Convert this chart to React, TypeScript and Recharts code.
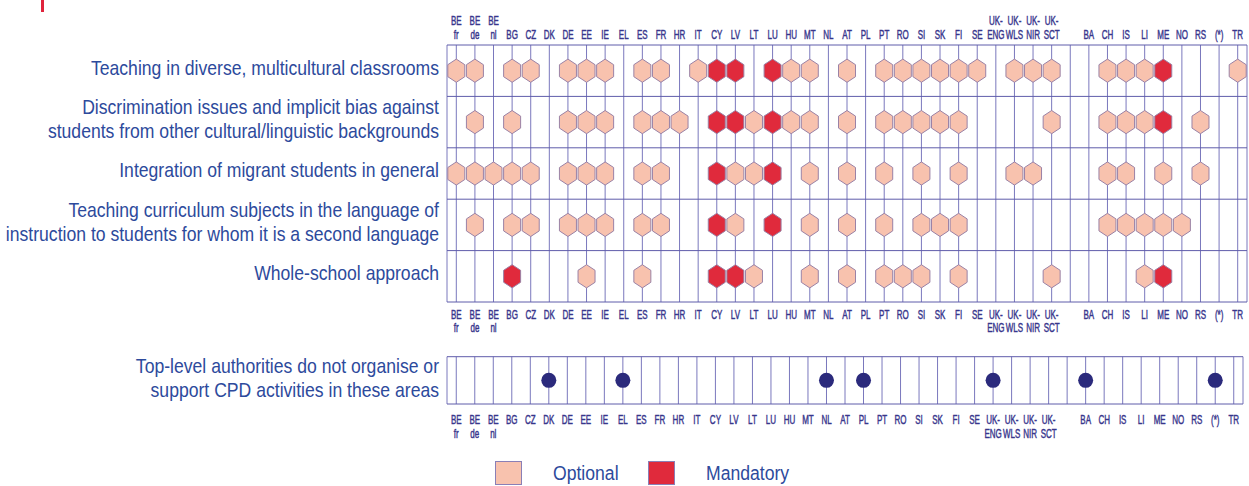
import React from 'react';
import { ScatterChart, Scatter, XAxis, YAxis, CartesianGrid, Legend, ReferenceLine } from 'recharts';

// ---------- data ----------
const countries = [
  'BE fr', 'BE de', 'BE nl', 'BG', 'CZ', 'DK', 'DE', 'EE', 'IE', 'EL', 'ES', 'FR', 'HR', 'IT',
  'CY', 'LV', 'LT', 'LU', 'HU', 'MT', 'NL', 'AT', 'PL', 'PT', 'RO', 'SI', 'SK', 'FI', 'SE',
  'UK- ENG', 'UK- WLS', 'UK- NIR', 'UK- SCT', '', 'BA', 'CH', 'IS', 'LI', 'ME', 'NO', 'RS', '(*)', 'TR',
];

const topics = [
  ['Teaching in diverse, multicultural classrooms'],
  ['Discrimination issues and implicit bias against', 'students from other cultural/linguistic backgrounds'],
  ['Integration of migrant students in general'],
  ['Teaching curriculum subjects in the language of', 'instruction to students for whom it is a second language'],
  ['Whole-school approach'],
];

const noCpdLabel = ['Top-level authorities do not organise or', 'support CPD activities in these areas'];

// 0 = no CPD, 1 = optional, 2 = mandatory
const diverseClassrooms = [
  1, 1, 0, 1, 1, 0, 1, 1, 1, 0,
  1, 1, 0, 1, 2, 2, 0, 2, 1, 1,
  0, 1, 0, 1, 1, 1, 1, 1, 1, 0,
  1, 1, 1, 0, 0, 1, 1, 1, 2, 0,
  0, 0, 1,
];
const discrimination = [
  0, 1, 0, 1, 0, 0, 1, 1, 1, 0,
  1, 1, 1, 0, 2, 2, 1, 2, 1, 1,
  0, 1, 0, 1, 1, 1, 1, 1, 0, 0,
  0, 0, 1, 0, 0, 1, 1, 1, 2, 0,
  1, 0, 0,
];
const integration = [
  1, 1, 1, 1, 1, 0, 1, 1, 1, 0,
  1, 1, 0, 0, 2, 1, 1, 2, 0, 1,
  0, 1, 0, 1, 0, 1, 0, 1, 0, 0,
  1, 1, 0, 0, 0, 1, 1, 0, 1, 0,
  1, 0, 0,
];
const curriculum = [
  0, 1, 0, 1, 1, 0, 1, 1, 1, 0,
  1, 1, 0, 0, 2, 1, 0, 2, 0, 1,
  0, 1, 0, 1, 0, 1, 1, 1, 0, 0,
  0, 0, 0, 0, 0, 1, 1, 1, 1, 1,
  0, 0, 0,
];
const wholeSchool = [
  0, 0, 0, 2, 0, 0, 0, 1, 0, 0,
  1, 0, 0, 0, 2, 2, 1, 0, 0, 1,
  0, 1, 0, 1, 1, 1, 0, 1, 0, 0,
  0, 0, 1, 0, 0, 0, 0, 1, 2, 0,
  0, 0, 0,
];
// 1 = top-level authorities do not organise or support CPD
const noCpd = [
  0, 0, 0, 0, 0, 1, 0, 0, 0, 1,
  0, 0, 0, 0, 0, 0, 0, 0, 0, 0,
  1, 0, 1, 0, 0, 0, 0, 0, 0, 1,
  0, 0, 0, 0, 1, 0, 0, 0, 0, 0,
  0, 1, 0,
];

const legendItems = [
  { label: 'Optional', fill: '#f8c2ae' },
  { label: 'Mandatory', fill: '#e02a3c' },
];

// ---------- derived ----------
const rows = [diverseClassrooms, discrimination, integration, curriculum, wholeSchool];
const pointsFor = (code: number) => {
  const out: { x: number; y: number }[] = [];
  rows.forEach((r, ri) => r.forEach((v, ci) => { if (v === code) out.push({ x: ci, y: ri + 0.5 }); }));
  return out;
};
const optionalPts = pointsFor(1);
const mandatoryPts = pointsFor(2);
const noCpdPts = noCpd.map((v, i) => (v ? { x: i, y: 0.5 } : null)).filter(Boolean) as { x: number; y: number }[];

const colTicks = [-0.5, ...countries.map((_, i) => i), countries.length - 0.5];
const rowTicks = topics.map((_, i) => i + 0.5);
const rowBounds = topics.map((_, i) => i).concat(topics.length);

// ---------- styles ----------
const GRID = '#7a78bd';
const HGRID = '#5f5caa';
const TICK_COLOR = '#38368c';
const LABEL_COLOR = '#2d4a9c';
const LABEL_FONT = "'Liberation Sans', Arial, sans-serif";

const Hexagon = (props: any) => {
  const { cx, cy, fill } = props;
  if (cx == null || cy == null) return <g />;
  const w = 8.5, h = 11.6, s = 6;
  const d = `M${cx},${cy - h}L${cx + w},${cy - s}L${cx + w},${cy + s}L${cx},${cy + h}L${cx - w},${cy + s}L${cx - w},${cy - s}Z`;
  return <path d={d} fill={fill} stroke="#9a82a6" strokeWidth={1} />;
};

const Nothing = () => <g />;

const Dot = (props: any) => {
  const { cx, cy } = props;
  if (cx == null || cy == null) return <g />;
  return <circle cx={cx} cy={cy} r={7.5} fill="#2b2a7c" />;
};

const makeColTick = (offsets2: number[], offsets1: number[]) => (props: any) => {
  const { x, y, payload } = props;
  const v = payload.value;
  if (!Number.isInteger(v)) return <g />;
  const lines = countries[v].split(' ').filter(Boolean);
  if (!lines.length) return <g />;
  const ys = lines.length === 2 ? offsets2 : offsets1;
  return (
    <g transform={`translate(${x},${y}) scale(0.64,1)`}>
      {lines.map((l, i) => (
        <text key={i} x={0} y={ys[i]} textAnchor="middle" dominantBaseline="central"
          fill={TICK_COLOR} stroke={TICK_COLOR} strokeWidth={0.45} fontSize={12.5} fontFamily={LABEL_FONT}>{l}</text>
      ))}
    </g>
  );
};

const TopTick = makeColTick([-24, -10.5], [-10.5]);
const BottomTick = makeColTick([12.5, 26], [12.5]);
const LowerBottomTick = makeColTick([16, 29.5], [16]);

const renderLines = (x: number, y: number, lines: string[]) => (
  <g transform={`translate(${x - 8},${y - 3}) scale(0.88,1)`}>
    {lines.map((l, i) => (
      <text key={i} x={0} y={(i - (lines.length - 1) / 2) * 24} textAnchor="end" dominantBaseline="central"
        fill={LABEL_COLOR} fontSize={20} fontFamily={LABEL_FONT}>{l}</text>
    ))}
  </g>
);

const RowTick = (props: any) => {
  const { x, y, payload } = props;
  const idx = Math.floor(payload.value);
  return renderLines(x, y, topics[idx] || []);
};

const LowerRowTick = (props: any) => {
  const { x, y } = props;
  return renderLines(x, y + 1, noCpdLabel);
};

const LegendContent = () => (
  <div style={{ height: 42, position: 'relative', fontFamily: LABEL_FONT }}>
    <div style={{ position: 'absolute', left: 495, top: 17, display: 'flex', alignItems: 'center' }}>
      {legendItems.map((it, i) => (
        <div key={it.label} style={{ display: 'flex', alignItems: 'center', marginRight: i === 0 ? 21 : 0 }}>
          <div style={{ width: 27, height: 24, background: it.fill, border: '1px solid #8a7fb6', boxSizing: 'border-box' }} />
          <span style={{ marginLeft: 31, color: LABEL_COLOR, fontSize: 20, display: 'inline-block', whiteSpace: 'nowrap', transform: 'scaleX(0.88)', transformOrigin: 'left center', width: it.label.length * 9.2 }}>{it.label}</span>
        </div>
      ))}
    </div>
  </div>
);

export default function App() {
  return (
    <div style={{ position: 'absolute', left: 0, top: 0, width: 1249, height: 486, background: '#fff' }}>
      <div style={{ position: 'absolute', left: 41, top: 0, width: 3, height: 12, background: '#e0233c' }} />
      <div style={{ position: 'absolute', left: 0, top: 0 }}>
        <ScatterChart width={1249} height={345} margin={{ top: 0, right: 2, bottom: 0, left: 0 }}>
          <XAxis xAxisId="top" orientation="top" type="number" dataKey="x" domain={[-0.5, countries.length - 0.5]}
            ticks={colTicks} interval={0} height={45} tickSize={0} tickMargin={0} axisLine={false} tickLine={false} tick={TopTick} />
          <XAxis xAxisId="bottom" orientation="bottom" type="number" dataKey="x" domain={[-0.5, countries.length - 0.5]}
            ticks={colTicks} interval={0} height={43} tickSize={0} tickMargin={0} axisLine={false} tickLine={false} tick={BottomTick} />
          <YAxis yAxisId="rows" type="number" dataKey="y" domain={[0, topics.length]} reversed ticks={rowTicks} interval={0}
            width={447} tickSize={0} tickMargin={0} axisLine={false} tickLine={false} tick={RowTick} />
          <CartesianGrid xAxisId="top" yAxisId="rows" horizontal={false} stroke={GRID} strokeWidth={1} />
          {rowBounds.map((b) => (
            <ReferenceLine key={b} xAxisId="top" yAxisId="rows" y={b} stroke={HGRID} strokeWidth={1} />
          ))}
          <Scatter name="axis" xAxisId="bottom" yAxisId="rows" data={optionalPts} shape={Nothing}
            legendType="none" isAnimationActive={false} />
          <Scatter name="Optional" xAxisId="top" yAxisId="rows" data={optionalPts} fill={legendItems[0].fill}
            shape={Hexagon} isAnimationActive={false} />
          <Scatter name="Mandatory" xAxisId="top" yAxisId="rows" data={mandatoryPts} fill={legendItems[1].fill}
            shape={Hexagon} isAnimationActive={false} />
        </ScatterChart>
      </div>
      <div style={{ position: 'absolute', left: 0, top: 345 }}>
        <ScatterChart width={1249} height={141} margin={{ top: 11.7, right: 6, bottom: 0, left: 0 }}>
          <XAxis xAxisId="b" orientation="bottom" type="number" dataKey="x" domain={[-0.5, countries.length - 0.5]}
            ticks={colTicks} interval={0} height={40} tickSize={0} tickMargin={0} axisLine={false} tickLine={false} tick={LowerBottomTick} />
          <YAxis yAxisId="r" type="number" dataKey="y" domain={[0, 1]} ticks={[0.5]} interval={0}
            width={447} tickSize={0} tickMargin={0} axisLine={false} tickLine={false} tick={LowerRowTick} />
          <CartesianGrid xAxisId="b" yAxisId="r" horizontal={false} stroke={GRID} strokeWidth={1} />
          <ReferenceLine xAxisId="b" yAxisId="r" y={0} stroke={HGRID} strokeWidth={1} />
          <ReferenceLine xAxisId="b" yAxisId="r" y={1} stroke={HGRID} strokeWidth={1} />
          <Scatter name="No CPD" xAxisId="b" yAxisId="r" data={noCpdPts} shape={Dot} isAnimationActive={false} legendType="none" />
          <Legend verticalAlign="bottom" align="left" content={LegendContent} />
        </ScatterChart>
      </div>
    </div>
  );
}
